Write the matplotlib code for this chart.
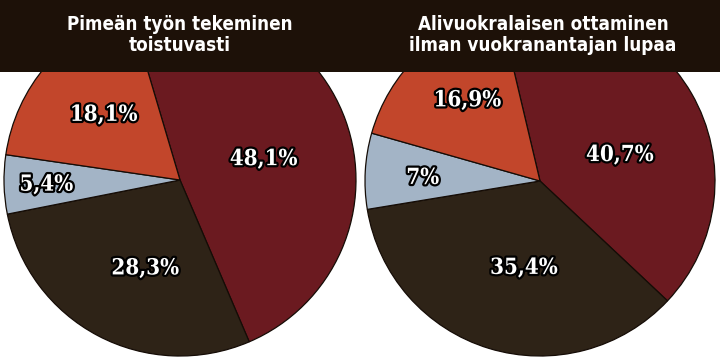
import matplotlib
matplotlib.use("Agg")
import matplotlib.pyplot as plt
import matplotlib.patheffects as pe
from matplotlib.patches import Rectangle
import numpy as np

# data
titles = ["Pimeän työn tekeminen\ntoistuvasti",
          "Alivuokralaisen ottaminen\nilman vuokranantajan lupaa"]
values_left = [48.1, 28.3, 5.4, 18.1]
values_right = [40.7, 35.4, 7.0, 16.9]
labels_left = ["48,1%", "28,3%", "5,4%", "18,1%"]
labels_right = ["40,7%", "35,4%", "7%", "16,9%"]

COLORS = ["#6b1a20", "#2e2317", "#a3b4c6", "#c2462b"]
BANNER = "#1d1108"

fig = plt.figure(figsize=(7.2, 3.6), dpi=100)
fig.patch.set_facecolor("white")

W, H = 720, 360

# (values, labels, centre px, radius px, startangle,
#  label radius fraction, label angle clockwise from 12 o'clock)
pies = [
    (values_left, labels_left, (180, 180), 176, 106.5,
     [0.49, 0.54, 0.76, 0.57], [76, 201.5, 268, 310.5]),
    (values_right, labels_right, (540, 181), 175, 103.3,
     [0.48, 0.505, 0.67, 0.62], [72, 190.5, 271.5, 318]),
]

stroke = [pe.withStroke(linewidth=3.2, foreground="black")]

for i, (vals, labs, (cx, cy), r, start, lr, la) in enumerate(pies):
    ax = fig.add_axes([i * 0.5, 0, 0.5, 1])
    ax.set_axis_off()
    wedges, _ = ax.pie(vals, colors=COLORS, startangle=start, counterclock=False,
                       radius=1.0,
                       wedgeprops=dict(edgecolor="#150c06", linewidth=0.9))
    lx = cx - i * 360
    ax.set_xlim(-lx / r, (360 - lx) / r)
    ax.set_ylim(-(H - cy) / r, cy / r)
    ax.set_aspect("equal")
    for lab, rr, ang in zip(labs, lr, la):
        a = np.deg2rad(90 - ang)
        ax.text(rr * np.cos(a), rr * np.sin(a), lab, ha="center", va="center",
                color="white", fontsize=16, fontweight="bold",
                family=["DejaVu Serif"], fontstretch="condensed",
                path_effects=stroke)

# title banner across the top
fig.patches.append(Rectangle((0, 1 - 72 / H), 1, 72 / H, transform=fig.transFigure,
                             facecolor=BANNER, edgecolor="none", zorder=5))
for i, t in enumerate(titles):
    fig.text(0.25 + 0.5 * i + (0.004 if i else 0), 1 - 35 / H, t, ha="center", va="center",
             color="white", fontsize=13.5, fontweight="bold",
             family=["DejaVu Sans"], fontstretch="condensed",
             linespacing=1.15, zorder=6)

fig.savefig("out.png", dpi=100, facecolor="white")
